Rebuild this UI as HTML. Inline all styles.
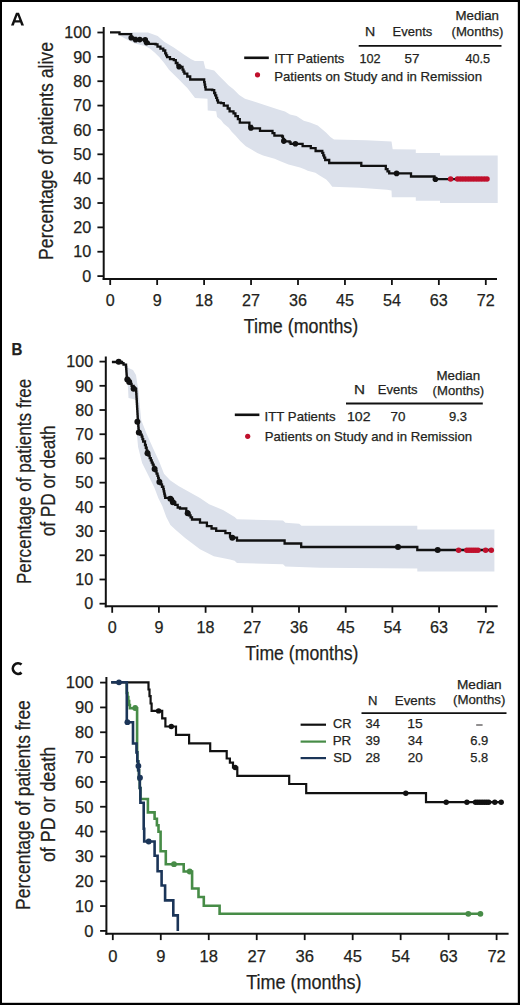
<!DOCTYPE html>
<html><head><meta charset="utf-8"><style>
html,body{margin:0;padding:0;background:#fff;overflow:hidden;width:520px;height:1005px;}
svg{display:block;}
text{font-family:"Liberation Sans", sans-serif;stroke:#231f20;stroke-width:0.25px;}
</style></head><body>
<svg width="520" height="1005" viewBox="0 0 520 1005">
<rect x="0" y="0" width="520" height="1005" fill="#fff"/>
<polygon points="118.00,32.40 148.00,32.60 157.70,36.00 164.20,41.80 173.80,47.60 183.50,54.30 191.20,59.20 195.00,61.00 203.50,61.00 205.40,68.50 214.20,70.50 219.00,75.80 223.80,80.60 228.70,85.40 233.50,89.20 239.20,95.00 245.00,98.80 254.00,101.50 263.80,104.80 278.30,109.60 285.00,111.50 290.00,114.50 296.50,116.00 303.80,120.80 310.00,122.50 317.70,125.50 326.00,132.50 330.40,137.00 334.00,139.40 366.20,140.20 391.50,141.50 392.70,149.20 415.80,149.60 415.80,153.00 440.00,153.00 440.00,155.40 497.70,155.40 497.70,203.00 440.00,203.00 440.00,200.80 415.80,200.80 415.80,197.30 391.80,197.30 391.50,190.40 387.00,189.80 359.20,187.80 332.30,186.80 329.20,182.70 326.20,179.60 320.00,175.80 315.40,172.70 307.70,170.80 304.60,169.20 300.00,167.60 288.50,164.60 280.40,161.20 274.60,158.80 263.10,155.40 257.30,153.10 251.50,149.60 245.80,146.20 240.20,141.00 235.40,135.40 231.50,131.50 228.70,127.70 223.80,123.80 221.00,120.00 217.10,117.10 216.20,111.30 207.70,110.40 207.50,98.80 195.00,98.00 187.30,88.00 183.50,84.20 178.70,79.30 173.80,74.50 169.00,69.70 164.20,63.00 159.40,57.20 154.60,52.40 149.80,48.60 145.00,46.00 135.00,43.50 125.00,38.50 118.00,34.60" fill="#dce1eb" stroke="none"/>
<polyline points="110.00,32.40 119.50,32.40 119.50,34.20 128.80,34.20 131.20,34.20 131.20,37.80 135.60,37.80 135.60,39.80 139.80,39.80 139.80,39.60 145.20,39.60 145.20,39.80 146.50,39.80 146.50,42.60 148.80,42.60 148.80,43.80 155.60,43.80 155.60,44.30 157.50,44.30 157.50,46.70 160.40,46.70 160.40,48.60 163.30,48.60 163.30,50.50 165.20,50.50 165.20,53.40 166.15,53.40 166.15,55.30 167.10,55.30 167.10,57.20 170.00,57.20 170.00,59.20 173.80,59.20 173.80,60.10 175.80,60.10 175.80,63.00 177.45,63.00 177.45,64.90 179.10,64.90 179.10,66.80 182.50,66.80 182.50,69.70 183.45,69.70 183.45,71.65 184.40,71.65 184.40,73.60 187.30,73.60 187.30,76.50 190.20,76.50 190.20,79.50 203.70,79.50 204.17,79.50 204.17,82.05 204.65,82.05 204.65,84.60 205.12,84.60 205.12,87.15 205.60,87.15 205.60,89.70 212.30,89.70 212.30,90.20 214.20,90.20 214.20,93.00 215.20,93.00 215.20,95.45 216.20,95.45 216.20,97.90 217.10,97.90 217.10,100.30 218.00,100.30 218.00,102.70 221.00,102.70 221.00,103.20 223.80,103.20 223.80,105.60 227.70,105.60 227.70,108.50 229.60,108.50 229.60,111.30 233.50,111.30 233.50,113.30 235.40,113.30 235.40,116.20 237.90,116.20 237.90,119.20 239.80,119.20 239.80,122.60 248.50,122.60 249.40,122.60 249.40,126.00 251.50,126.00 251.50,128.40 259.50,128.40 260.00,128.40 260.00,130.80 271.50,130.80 272.50,130.80 272.50,133.20 274.40,133.20 274.40,135.60 282.10,135.60 282.10,136.50 282.95,136.50 282.95,138.90 283.80,138.90 283.80,141.30 289.60,141.30 289.60,142.30 290.60,142.30 290.60,143.80 302.10,143.80 302.60,143.80 302.60,146.20 309.80,146.20 310.80,146.20 310.80,148.10 314.60,148.10 315.60,148.10 315.60,151.00 321.30,151.00 322.30,151.00 322.30,152.90 323.25,152.90 323.25,155.30 324.20,155.30 324.20,157.70 325.20,157.70 325.20,160.00 329.20,160.00 329.20,160.50 329.20,163.00 361.30,163.00 361.30,165.90 384.60,165.90 385.80,165.90 385.80,169.20 387.50,169.20 387.50,171.30 389.20,171.30 389.20,173.40 411.00,173.40 411.00,176.50 434.50,176.50 434.50,179.20 488.00,179.20" fill="none" stroke="#111" stroke-width="2.3" stroke-linejoin="miter" stroke-linecap="butt"/>
<circle cx="131.20" cy="37.80" r="2.8" fill="#111"/>
<circle cx="135.60" cy="39.80" r="2.8" fill="#111"/>
<circle cx="139.80" cy="39.60" r="2.8" fill="#111"/>
<circle cx="145.20" cy="39.80" r="2.8" fill="#111"/>
<circle cx="146.50" cy="42.60" r="2.8" fill="#111"/>
<circle cx="179.10" cy="66.80" r="2.8" fill="#111"/>
<circle cx="250.90" cy="127.90" r="2.8" fill="#111"/>
<circle cx="283.80" cy="141.10" r="2.8" fill="#111"/>
<circle cx="295.40" cy="143.80" r="2.8" fill="#111"/>
<circle cx="396.60" cy="173.40" r="2.8" fill="#111"/>
<circle cx="435.40" cy="179.20" r="2.8" fill="#111"/>
<circle cx="450.60" cy="179.10" r="2.75" fill="#c0102c"/>
<circle cx="457.50" cy="179.10" r="2.75" fill="#c0102c"/>
<circle cx="460.18" cy="179.10" r="2.75" fill="#c0102c"/>
<circle cx="462.86" cy="179.10" r="2.75" fill="#c0102c"/>
<circle cx="465.55" cy="179.10" r="2.75" fill="#c0102c"/>
<circle cx="468.23" cy="179.10" r="2.75" fill="#c0102c"/>
<circle cx="470.91" cy="179.10" r="2.75" fill="#c0102c"/>
<circle cx="473.59" cy="179.10" r="2.75" fill="#c0102c"/>
<circle cx="476.27" cy="179.10" r="2.75" fill="#c0102c"/>
<circle cx="478.95" cy="179.10" r="2.75" fill="#c0102c"/>
<circle cx="481.64" cy="179.10" r="2.75" fill="#c0102c"/>
<circle cx="484.32" cy="179.10" r="2.75" fill="#c0102c"/>
<circle cx="487.00" cy="179.10" r="2.75" fill="#c0102c"/>
<line x1="103.70" y1="27.00" x2="103.70" y2="280.00" stroke="#111" stroke-width="2.0"/>
<line x1="102.70" y1="279.00" x2="497.00" y2="279.00" stroke="#111" stroke-width="2.0"/>
<line x1="97.40" y1="276.10" x2="103.70" y2="276.10" stroke="#111" stroke-width="1.80"/>
<text x="91.20" y="281.80" font-size="16.5" text-anchor="end" fill="#231f20" textLength="8.99" lengthAdjust="spacingAndGlyphs">0</text>
<line x1="97.40" y1="251.74" x2="103.70" y2="251.74" stroke="#111" stroke-width="1.80"/>
<text x="91.20" y="257.44" font-size="16.5" text-anchor="end" fill="#231f20" textLength="17.99" lengthAdjust="spacingAndGlyphs">10</text>
<line x1="97.40" y1="227.38" x2="103.70" y2="227.38" stroke="#111" stroke-width="1.80"/>
<text x="91.20" y="233.08" font-size="16.5" text-anchor="end" fill="#231f20" textLength="17.99" lengthAdjust="spacingAndGlyphs">20</text>
<line x1="97.40" y1="203.02" x2="103.70" y2="203.02" stroke="#111" stroke-width="1.80"/>
<text x="91.20" y="208.72" font-size="16.5" text-anchor="end" fill="#231f20" textLength="17.99" lengthAdjust="spacingAndGlyphs">30</text>
<line x1="97.40" y1="178.66" x2="103.70" y2="178.66" stroke="#111" stroke-width="1.80"/>
<text x="91.20" y="184.36" font-size="16.5" text-anchor="end" fill="#231f20" textLength="17.99" lengthAdjust="spacingAndGlyphs">40</text>
<line x1="97.40" y1="154.30" x2="103.70" y2="154.30" stroke="#111" stroke-width="1.80"/>
<text x="91.20" y="160.00" font-size="16.5" text-anchor="end" fill="#231f20" textLength="17.99" lengthAdjust="spacingAndGlyphs">50</text>
<line x1="97.40" y1="129.94" x2="103.70" y2="129.94" stroke="#111" stroke-width="1.80"/>
<text x="91.20" y="135.64" font-size="16.5" text-anchor="end" fill="#231f20" textLength="17.99" lengthAdjust="spacingAndGlyphs">60</text>
<line x1="97.40" y1="105.58" x2="103.70" y2="105.58" stroke="#111" stroke-width="1.80"/>
<text x="91.20" y="111.28" font-size="16.5" text-anchor="end" fill="#231f20" textLength="17.99" lengthAdjust="spacingAndGlyphs">70</text>
<line x1="97.40" y1="81.22" x2="103.70" y2="81.22" stroke="#111" stroke-width="1.80"/>
<text x="91.20" y="86.92" font-size="16.5" text-anchor="end" fill="#231f20" textLength="17.99" lengthAdjust="spacingAndGlyphs">80</text>
<line x1="97.40" y1="56.86" x2="103.70" y2="56.86" stroke="#111" stroke-width="1.80"/>
<text x="91.20" y="62.56" font-size="16.5" text-anchor="end" fill="#231f20" textLength="17.99" lengthAdjust="spacingAndGlyphs">90</text>
<line x1="97.40" y1="32.50" x2="103.70" y2="32.50" stroke="#111" stroke-width="1.80"/>
<text x="91.20" y="38.20" font-size="16.5" text-anchor="end" fill="#231f20" textLength="26.98" lengthAdjust="spacingAndGlyphs">100</text>
<line x1="110.20" y1="279.00" x2="110.20" y2="285.00" stroke="#111" stroke-width="1.80"/>
<text x="110.20" y="306.30" font-size="16.5" text-anchor="middle" fill="#231f20" textLength="8.99" lengthAdjust="spacingAndGlyphs">0</text>
<line x1="157.15" y1="279.00" x2="157.15" y2="285.00" stroke="#111" stroke-width="1.80"/>
<text x="157.15" y="306.30" font-size="16.5" text-anchor="middle" fill="#231f20" textLength="8.99" lengthAdjust="spacingAndGlyphs">9</text>
<line x1="204.10" y1="279.00" x2="204.10" y2="285.00" stroke="#111" stroke-width="1.80"/>
<text x="204.10" y="306.30" font-size="16.5" text-anchor="middle" fill="#231f20" textLength="17.99" lengthAdjust="spacingAndGlyphs">18</text>
<line x1="251.05" y1="279.00" x2="251.05" y2="285.00" stroke="#111" stroke-width="1.80"/>
<text x="251.05" y="306.30" font-size="16.5" text-anchor="middle" fill="#231f20" textLength="17.99" lengthAdjust="spacingAndGlyphs">27</text>
<line x1="298.00" y1="279.00" x2="298.00" y2="285.00" stroke="#111" stroke-width="1.80"/>
<text x="298.00" y="306.30" font-size="16.5" text-anchor="middle" fill="#231f20" textLength="17.99" lengthAdjust="spacingAndGlyphs">36</text>
<line x1="344.95" y1="279.00" x2="344.95" y2="285.00" stroke="#111" stroke-width="1.80"/>
<text x="344.95" y="306.30" font-size="16.5" text-anchor="middle" fill="#231f20" textLength="17.99" lengthAdjust="spacingAndGlyphs">45</text>
<line x1="391.90" y1="279.00" x2="391.90" y2="285.00" stroke="#111" stroke-width="1.80"/>
<text x="391.90" y="306.30" font-size="16.5" text-anchor="middle" fill="#231f20" textLength="17.99" lengthAdjust="spacingAndGlyphs">54</text>
<line x1="438.85" y1="279.00" x2="438.85" y2="285.00" stroke="#111" stroke-width="1.80"/>
<text x="438.85" y="306.30" font-size="16.5" text-anchor="middle" fill="#231f20" textLength="17.99" lengthAdjust="spacingAndGlyphs">63</text>
<line x1="485.80" y1="279.00" x2="485.80" y2="285.00" stroke="#111" stroke-width="1.80"/>
<text x="485.80" y="306.30" font-size="16.5" text-anchor="middle" fill="#231f20" textLength="17.99" lengthAdjust="spacingAndGlyphs">72</text>
<polygon points="123.00,362.00 126.00,363.20 128.50,368.00 133.00,370.00 136.00,375.00 137.50,385.00 138.80,392.00 139.80,405.00 141.20,420.00 146.50,433.50 152.50,446.90 159.30,461.70 164.00,473.80 170.40,480.60 178.50,486.00 187.90,491.30 200.00,498.00 209.20,504.20 223.00,510.00 234.60,516.90 237.00,519.20 283.00,520.40 285.40,522.70 299.20,523.80 301.50,525.80 417.30,525.80 417.30,529.50 494.40,529.50 494.40,571.50 417.30,571.50 417.30,568.50 320.00,567.70 285.40,566.50 283.00,564.20 237.00,563.10 234.60,560.80 230.00,559.60 213.80,556.20 200.00,549.20 185.40,538.30 175.80,530.00 170.40,525.00 166.30,516.90 162.30,506.10 158.30,498.00 154.20,487.30 147.50,473.80 142.10,463.10 138.10,446.90 136.80,433.50 136.80,420.00 136.50,400.00 133.00,399.00 128.50,398.00 128.00,388.00 127.00,378.00 125.50,369.00 123.00,365.00" fill="#dce1eb" stroke="none"/>
<polyline points="111.90,362.00 118.70,362.00 122.00,362.00 122.00,363.20 123.50,363.20 123.50,364.60 125.90,364.60 126.05,364.60 126.05,366.83 126.20,366.83 126.20,369.07 126.35,369.07 126.35,371.30 126.50,371.30 126.50,373.53 126.65,373.53 126.65,375.77 126.80,375.77 126.80,378.00 127.30,378.00 127.30,379.50 129.20,379.50 129.20,382.00 130.40,382.00 130.40,383.90 131.60,383.90 131.60,385.80 133.60,385.80 133.60,388.70 136.00,388.70 136.00,389.10 136.15,389.10 136.15,391.58 136.29,391.58 136.29,394.05 136.44,394.05 136.44,396.53 136.58,396.53 136.58,399.01 136.73,399.01 136.73,401.48 136.88,401.48 136.88,403.96 137.02,403.96 137.02,406.44 137.17,406.44 137.17,408.92 137.32,408.92 137.32,411.39 137.46,411.39 137.46,413.87 137.61,413.87 137.61,416.35 137.75,416.35 137.75,418.82 137.90,418.82 137.90,421.30 138.08,421.30 138.08,423.52 138.26,423.52 138.26,425.74 138.44,425.74 138.44,427.96 138.62,427.96 138.62,430.18 138.80,430.18 138.80,432.40 140.25,432.40 140.25,434.55 141.70,434.55 141.70,436.70 142.45,436.70 142.45,439.10 143.20,439.10 143.20,441.50 145.00,441.50 145.00,445.00 145.83,445.00 145.83,447.77 146.67,447.77 146.67,450.53 147.50,450.53 147.50,453.30 148.60,453.30 148.60,455.67 149.70,455.67 149.70,458.03 150.80,458.03 150.80,460.40 151.75,460.40 151.75,462.55 152.70,462.55 152.70,464.70 153.65,464.70 153.65,466.85 154.60,466.85 154.60,469.00 155.57,469.00 155.57,471.27 156.53,471.27 156.53,473.53 157.50,473.53 157.50,475.80 158.13,475.80 158.13,477.83 158.77,477.83 158.77,479.87 159.40,479.87 159.40,481.90 160.70,481.90 160.70,484.33 162.00,484.33 162.00,486.77 163.30,486.77 163.30,489.20 163.78,489.20 163.78,491.38 164.25,491.38 164.25,493.55 164.72,493.55 164.72,495.72 165.20,495.72 165.20,497.90 170.40,497.90 170.40,498.80 172.90,498.80 172.90,502.30 175.30,502.30 175.30,504.90 177.70,504.90 177.70,507.50 180.00,507.50 180.00,508.50 186.30,508.50 186.30,511.50 187.70,511.50 187.70,513.30 189.13,513.30 189.13,515.37 190.57,515.37 190.57,517.43 192.00,517.43 192.00,519.50 200.00,519.50 200.00,522.70 206.90,522.70 206.90,526.20 211.55,526.20 211.55,528.50 216.20,528.50 216.20,530.80 225.40,530.80 225.40,533.10 230.00,533.10 230.00,536.50 232.30,536.50 232.30,537.70 237.00,537.70 237.00,540.50 284.60,540.50 284.60,543.50 301.20,543.50 301.20,547.00 417.30,547.00 417.30,550.00 492.00,550.00" fill="none" stroke="#111" stroke-width="2.3" stroke-linejoin="miter" stroke-linecap="butt"/>
<circle cx="118.70" cy="361.80" r="3.0" fill="#111"/>
<circle cx="127.30" cy="379.50" r="3.0" fill="#111"/>
<circle cx="129.20" cy="382.00" r="3.0" fill="#111"/>
<circle cx="133.60" cy="388.70" r="3.0" fill="#111"/>
<circle cx="137.40" cy="421.80" r="3.0" fill="#111"/>
<circle cx="138.80" cy="432.40" r="3.0" fill="#111"/>
<circle cx="147.50" cy="453.30" r="3.0" fill="#111"/>
<circle cx="154.60" cy="469.00" r="3.0" fill="#111"/>
<circle cx="159.40" cy="481.90" r="3.0" fill="#111"/>
<circle cx="170.40" cy="498.80" r="3.0" fill="#111"/>
<circle cx="172.90" cy="502.30" r="3.0" fill="#111"/>
<circle cx="187.70" cy="513.30" r="3.0" fill="#111"/>
<circle cx="232.30" cy="537.70" r="3.0" fill="#111"/>
<circle cx="398.00" cy="547.00" r="3.0" fill="#111"/>
<circle cx="437.70" cy="550.00" r="3.0" fill="#111"/>
<circle cx="458.60" cy="550.20" r="2.75" fill="#c0102c"/>
<circle cx="466.80" cy="550.20" r="2.75" fill="#c0102c"/>
<circle cx="469.04" cy="550.20" r="2.75" fill="#c0102c"/>
<circle cx="471.28" cy="550.20" r="2.75" fill="#c0102c"/>
<circle cx="473.52" cy="550.20" r="2.75" fill="#c0102c"/>
<circle cx="475.76" cy="550.20" r="2.75" fill="#c0102c"/>
<circle cx="478.00" cy="550.20" r="2.75" fill="#c0102c"/>
<circle cx="485.60" cy="550.20" r="2.75" fill="#c0102c"/>
<circle cx="491.30" cy="550.20" r="2.75" fill="#c0102c"/>
<line x1="105.80" y1="356.50" x2="105.80" y2="607.30" stroke="#111" stroke-width="2.0"/>
<line x1="104.80" y1="606.30" x2="497.70" y2="606.30" stroke="#111" stroke-width="2.0"/>
<line x1="99.50" y1="603.70" x2="105.80" y2="603.70" stroke="#111" stroke-width="1.80"/>
<text x="93.20" y="609.40" font-size="16.5" text-anchor="end" fill="#231f20" textLength="8.99" lengthAdjust="spacingAndGlyphs">0</text>
<line x1="99.50" y1="579.49" x2="105.80" y2="579.49" stroke="#111" stroke-width="1.80"/>
<text x="93.20" y="585.19" font-size="16.5" text-anchor="end" fill="#231f20" textLength="17.99" lengthAdjust="spacingAndGlyphs">10</text>
<line x1="99.50" y1="555.28" x2="105.80" y2="555.28" stroke="#111" stroke-width="1.80"/>
<text x="93.20" y="560.98" font-size="16.5" text-anchor="end" fill="#231f20" textLength="17.99" lengthAdjust="spacingAndGlyphs">20</text>
<line x1="99.50" y1="531.07" x2="105.80" y2="531.07" stroke="#111" stroke-width="1.80"/>
<text x="93.20" y="536.77" font-size="16.5" text-anchor="end" fill="#231f20" textLength="17.99" lengthAdjust="spacingAndGlyphs">30</text>
<line x1="99.50" y1="506.86" x2="105.80" y2="506.86" stroke="#111" stroke-width="1.80"/>
<text x="93.20" y="512.56" font-size="16.5" text-anchor="end" fill="#231f20" textLength="17.99" lengthAdjust="spacingAndGlyphs">40</text>
<line x1="99.50" y1="482.65" x2="105.80" y2="482.65" stroke="#111" stroke-width="1.80"/>
<text x="93.20" y="488.35" font-size="16.5" text-anchor="end" fill="#231f20" textLength="17.99" lengthAdjust="spacingAndGlyphs">50</text>
<line x1="99.50" y1="458.44" x2="105.80" y2="458.44" stroke="#111" stroke-width="1.80"/>
<text x="93.20" y="464.14" font-size="16.5" text-anchor="end" fill="#231f20" textLength="17.99" lengthAdjust="spacingAndGlyphs">60</text>
<line x1="99.50" y1="434.23" x2="105.80" y2="434.23" stroke="#111" stroke-width="1.80"/>
<text x="93.20" y="439.93" font-size="16.5" text-anchor="end" fill="#231f20" textLength="17.99" lengthAdjust="spacingAndGlyphs">70</text>
<line x1="99.50" y1="410.02" x2="105.80" y2="410.02" stroke="#111" stroke-width="1.80"/>
<text x="93.20" y="415.72" font-size="16.5" text-anchor="end" fill="#231f20" textLength="17.99" lengthAdjust="spacingAndGlyphs">80</text>
<line x1="99.50" y1="385.81" x2="105.80" y2="385.81" stroke="#111" stroke-width="1.80"/>
<text x="93.20" y="391.51" font-size="16.5" text-anchor="end" fill="#231f20" textLength="17.99" lengthAdjust="spacingAndGlyphs">90</text>
<line x1="99.50" y1="361.60" x2="105.80" y2="361.60" stroke="#111" stroke-width="1.80"/>
<text x="93.20" y="367.30" font-size="16.5" text-anchor="end" fill="#231f20" textLength="26.98" lengthAdjust="spacingAndGlyphs">100</text>
<line x1="112.20" y1="606.30" x2="112.20" y2="612.80" stroke="#111" stroke-width="1.80"/>
<text x="112.20" y="633.40" font-size="16.5" text-anchor="middle" fill="#231f20" textLength="8.99" lengthAdjust="spacingAndGlyphs">0</text>
<line x1="158.90" y1="606.30" x2="158.90" y2="612.80" stroke="#111" stroke-width="1.80"/>
<text x="158.90" y="633.40" font-size="16.5" text-anchor="middle" fill="#231f20" textLength="8.99" lengthAdjust="spacingAndGlyphs">9</text>
<line x1="205.60" y1="606.30" x2="205.60" y2="612.80" stroke="#111" stroke-width="1.80"/>
<text x="205.60" y="633.40" font-size="16.5" text-anchor="middle" fill="#231f20" textLength="17.99" lengthAdjust="spacingAndGlyphs">18</text>
<line x1="252.30" y1="606.30" x2="252.30" y2="612.80" stroke="#111" stroke-width="1.80"/>
<text x="252.30" y="633.40" font-size="16.5" text-anchor="middle" fill="#231f20" textLength="17.99" lengthAdjust="spacingAndGlyphs">27</text>
<line x1="299.00" y1="606.30" x2="299.00" y2="612.80" stroke="#111" stroke-width="1.80"/>
<text x="299.00" y="633.40" font-size="16.5" text-anchor="middle" fill="#231f20" textLength="17.99" lengthAdjust="spacingAndGlyphs">36</text>
<line x1="345.70" y1="606.30" x2="345.70" y2="612.80" stroke="#111" stroke-width="1.80"/>
<text x="345.70" y="633.40" font-size="16.5" text-anchor="middle" fill="#231f20" textLength="17.99" lengthAdjust="spacingAndGlyphs">45</text>
<line x1="392.40" y1="606.30" x2="392.40" y2="612.80" stroke="#111" stroke-width="1.80"/>
<text x="392.40" y="633.40" font-size="16.5" text-anchor="middle" fill="#231f20" textLength="17.99" lengthAdjust="spacingAndGlyphs">54</text>
<line x1="439.10" y1="606.30" x2="439.10" y2="612.80" stroke="#111" stroke-width="1.80"/>
<text x="439.10" y="633.40" font-size="16.5" text-anchor="middle" fill="#231f20" textLength="17.99" lengthAdjust="spacingAndGlyphs">63</text>
<line x1="485.80" y1="606.30" x2="485.80" y2="612.80" stroke="#111" stroke-width="1.80"/>
<text x="485.80" y="633.40" font-size="16.5" text-anchor="middle" fill="#231f20" textLength="17.99" lengthAdjust="spacingAndGlyphs">72</text>
<polyline points="111.20,682.30 148.50,682.30 148.50,689.50 149.50,689.50 149.50,696.10 150.60,696.10 150.60,703.50 151.60,703.50 151.60,710.90 162.20,710.90 162.20,718.30 165.40,718.30 165.40,726.50 176.00,726.50 176.00,734.80 189.10,734.80 189.10,743.30 210.20,743.30 210.20,751.10 226.70,751.10 226.70,758.50 229.90,758.50 229.90,762.70 233.00,762.70 233.00,767.50 237.30,767.50 237.30,775.80 289.20,775.80 289.20,784.00 306.20,784.00 306.20,793.20 426.00,793.20 426.00,802.20 502.00,802.20" fill="none" stroke="#111" stroke-width="2.2" stroke-linejoin="miter" stroke-linecap="butt"/>
<polyline points="126.80,682.30 126.80,693.00 127.50,693.00 127.50,697.00 128.30,697.00 128.30,701.00 129.10,701.00 129.10,705.00 129.90,705.00 129.90,708.30 137.10,708.30 137.10,752.40 137.30,752.40 137.30,761.30 138.20,761.30 138.20,770.20 139.00,770.20 139.00,779.10 139.80,779.10 139.80,788.00 140.40,788.00 140.40,799.00 147.90,799.00 147.90,812.40 154.60,812.40 154.60,818.80 156.90,818.80 156.90,825.20 158.50,825.20 158.50,831.80 160.60,831.80 160.60,851.20 165.80,851.20 165.80,864.20 183.70,864.20 183.70,871.50 192.10,871.50 192.10,888.50 198.50,888.50 198.50,897.00 203.80,897.00 203.80,905.80 219.60,905.80 219.60,913.80 481.00,913.80" fill="none" stroke="#478c47" stroke-width="2.6" stroke-linejoin="miter" stroke-linecap="butt"/>
<polyline points="111.20,682.30 126.80,682.30 126.80,722.20 133.00,722.20 133.00,743.50 136.50,743.50 136.50,752.40 137.30,752.40 137.30,761.30 138.20,761.30 138.20,770.20 139.00,770.20 139.00,779.10 139.80,779.10 139.80,788.00 140.40,788.00 140.40,802.70 143.70,802.70 143.70,828.80 144.20,828.80 144.20,841.50 154.60,841.50 154.60,855.70 157.60,855.70 157.60,871.30 161.60,871.30 161.60,885.50 165.10,885.50 165.10,900.40 173.30,900.40 173.30,915.40 177.80,915.40 177.80,931.00" fill="none" stroke="#1b3558" stroke-width="2.6" stroke-linejoin="miter" stroke-linecap="butt"/>
<circle cx="158.60" cy="710.90" r="2.7" fill="#111"/>
<circle cx="171.30" cy="726.50" r="2.7" fill="#111"/>
<circle cx="235.20" cy="767.50" r="2.7" fill="#111"/>
<circle cx="405.80" cy="793.20" r="2.7" fill="#111"/>
<circle cx="446.20" cy="802.20" r="2.7" fill="#111"/>
<circle cx="466.90" cy="802.20" r="2.7" fill="#111"/>
<circle cx="475.50" cy="802.20" r="2.7" fill="#111"/>
<circle cx="477.70" cy="802.20" r="2.7" fill="#111"/>
<circle cx="479.90" cy="802.20" r="2.7" fill="#111"/>
<circle cx="482.10" cy="802.20" r="2.7" fill="#111"/>
<circle cx="484.30" cy="802.20" r="2.7" fill="#111"/>
<circle cx="486.50" cy="802.20" r="2.7" fill="#111"/>
<circle cx="488.70" cy="802.20" r="2.7" fill="#111"/>
<circle cx="494.80" cy="802.20" r="2.7" fill="#111"/>
<circle cx="501.20" cy="802.20" r="2.7" fill="#111"/>
<circle cx="135.20" cy="708.00" r="2.9" fill="#478c47"/>
<circle cx="174.00" cy="864.20" r="2.9" fill="#478c47"/>
<circle cx="189.70" cy="871.50" r="2.9" fill="#478c47"/>
<circle cx="468.30" cy="913.80" r="2.9" fill="#478c47"/>
<circle cx="480.40" cy="913.80" r="2.9" fill="#478c47"/>
<circle cx="119.00" cy="682.30" r="2.9" fill="#1b3558"/>
<circle cx="127.40" cy="722.20" r="2.9" fill="#1b3558"/>
<circle cx="138.40" cy="766.00" r="2.9" fill="#1b3558"/>
<circle cx="140.00" cy="777.70" r="2.9" fill="#1b3558"/>
<circle cx="148.70" cy="841.50" r="2.9" fill="#1b3558"/>
<line x1="106.40" y1="677.00" x2="106.40" y2="934.80" stroke="#111" stroke-width="2.0"/>
<line x1="105.40" y1="933.80" x2="508.60" y2="933.80" stroke="#111" stroke-width="2.0"/>
<line x1="100.10" y1="930.90" x2="106.40" y2="930.90" stroke="#111" stroke-width="1.80"/>
<text x="93.40" y="936.70" font-size="16.9" text-anchor="end" fill="#231f20" textLength="9.21" lengthAdjust="spacingAndGlyphs">0</text>
<line x1="100.10" y1="906.07" x2="106.40" y2="906.07" stroke="#111" stroke-width="1.80"/>
<text x="93.40" y="911.87" font-size="16.9" text-anchor="end" fill="#231f20" textLength="18.42" lengthAdjust="spacingAndGlyphs">10</text>
<line x1="100.10" y1="881.24" x2="106.40" y2="881.24" stroke="#111" stroke-width="1.80"/>
<text x="93.40" y="887.04" font-size="16.9" text-anchor="end" fill="#231f20" textLength="18.42" lengthAdjust="spacingAndGlyphs">20</text>
<line x1="100.10" y1="856.41" x2="106.40" y2="856.41" stroke="#111" stroke-width="1.80"/>
<text x="93.40" y="862.21" font-size="16.9" text-anchor="end" fill="#231f20" textLength="18.42" lengthAdjust="spacingAndGlyphs">30</text>
<line x1="100.10" y1="831.58" x2="106.40" y2="831.58" stroke="#111" stroke-width="1.80"/>
<text x="93.40" y="837.38" font-size="16.9" text-anchor="end" fill="#231f20" textLength="18.42" lengthAdjust="spacingAndGlyphs">40</text>
<line x1="100.10" y1="806.75" x2="106.40" y2="806.75" stroke="#111" stroke-width="1.80"/>
<text x="93.40" y="812.55" font-size="16.9" text-anchor="end" fill="#231f20" textLength="18.42" lengthAdjust="spacingAndGlyphs">50</text>
<line x1="100.10" y1="781.92" x2="106.40" y2="781.92" stroke="#111" stroke-width="1.80"/>
<text x="93.40" y="787.72" font-size="16.9" text-anchor="end" fill="#231f20" textLength="18.42" lengthAdjust="spacingAndGlyphs">60</text>
<line x1="100.10" y1="757.09" x2="106.40" y2="757.09" stroke="#111" stroke-width="1.80"/>
<text x="93.40" y="762.89" font-size="16.9" text-anchor="end" fill="#231f20" textLength="18.42" lengthAdjust="spacingAndGlyphs">70</text>
<line x1="100.10" y1="732.26" x2="106.40" y2="732.26" stroke="#111" stroke-width="1.80"/>
<text x="93.40" y="738.06" font-size="16.9" text-anchor="end" fill="#231f20" textLength="18.42" lengthAdjust="spacingAndGlyphs">80</text>
<line x1="100.10" y1="707.43" x2="106.40" y2="707.43" stroke="#111" stroke-width="1.80"/>
<text x="93.40" y="713.23" font-size="16.9" text-anchor="end" fill="#231f20" textLength="18.42" lengthAdjust="spacingAndGlyphs">90</text>
<line x1="100.10" y1="682.60" x2="106.40" y2="682.60" stroke="#111" stroke-width="1.80"/>
<text x="93.40" y="688.40" font-size="16.9" text-anchor="end" fill="#231f20" textLength="27.63" lengthAdjust="spacingAndGlyphs">100</text>
<line x1="112.80" y1="933.80" x2="112.80" y2="940.10" stroke="#111" stroke-width="1.80"/>
<text x="112.80" y="961.70" font-size="16.9" text-anchor="middle" fill="#231f20" textLength="9.21" lengthAdjust="spacingAndGlyphs">0</text>
<line x1="160.78" y1="933.80" x2="160.78" y2="940.10" stroke="#111" stroke-width="1.80"/>
<text x="160.78" y="961.70" font-size="16.9" text-anchor="middle" fill="#231f20" textLength="9.21" lengthAdjust="spacingAndGlyphs">9</text>
<line x1="208.75" y1="933.80" x2="208.75" y2="940.10" stroke="#111" stroke-width="1.80"/>
<text x="208.75" y="961.70" font-size="16.9" text-anchor="middle" fill="#231f20" textLength="18.42" lengthAdjust="spacingAndGlyphs">18</text>
<line x1="256.73" y1="933.80" x2="256.73" y2="940.10" stroke="#111" stroke-width="1.80"/>
<text x="256.73" y="961.70" font-size="16.9" text-anchor="middle" fill="#231f20" textLength="18.42" lengthAdjust="spacingAndGlyphs">27</text>
<line x1="304.70" y1="933.80" x2="304.70" y2="940.10" stroke="#111" stroke-width="1.80"/>
<text x="304.70" y="961.70" font-size="16.9" text-anchor="middle" fill="#231f20" textLength="18.42" lengthAdjust="spacingAndGlyphs">36</text>
<line x1="352.68" y1="933.80" x2="352.68" y2="940.10" stroke="#111" stroke-width="1.80"/>
<text x="352.68" y="961.70" font-size="16.9" text-anchor="middle" fill="#231f20" textLength="18.42" lengthAdjust="spacingAndGlyphs">45</text>
<line x1="400.65" y1="933.80" x2="400.65" y2="940.10" stroke="#111" stroke-width="1.80"/>
<text x="400.65" y="961.70" font-size="16.9" text-anchor="middle" fill="#231f20" textLength="18.42" lengthAdjust="spacingAndGlyphs">54</text>
<line x1="448.62" y1="933.80" x2="448.62" y2="940.10" stroke="#111" stroke-width="1.80"/>
<text x="448.62" y="961.70" font-size="16.9" text-anchor="middle" fill="#231f20" textLength="18.42" lengthAdjust="spacingAndGlyphs">63</text>
<line x1="496.60" y1="933.80" x2="496.60" y2="940.10" stroke="#111" stroke-width="1.80"/>
<text x="496.60" y="961.70" font-size="16.9" text-anchor="middle" fill="#231f20" textLength="18.42" lengthAdjust="spacingAndGlyphs">72</text>
<path d="M11,25.5 L16,12.8 L19,12.8 L24,25.5 L21.2,25.5 L20.2,22.5 L14.8,22.5 L13.8,25.5 Z M15.6,20.2 L19.4,20.2 L17.5,15.2 Z" fill="#111" fill-rule="evenodd"/>
<text x="11.40" y="354.80" font-size="17.3" text-anchor="start" fill="#231f20" font-weight="bold" textLength="10.89" lengthAdjust="spacingAndGlyphs" stroke="#111" stroke-width="0.9">B</text>
<path d="M21.56,664.49 A5.3,5.3 0 1 0 21.56,672.61" fill="none" stroke="#111" stroke-width="2.7"/>
<text x="243.71" y="332.50" font-size="20.3" text-anchor="start" fill="#231f20" textLength="114.52" lengthAdjust="spacingAndGlyphs">Time (months)</text>
<text x="245.36" y="660.00" font-size="20.3" text-anchor="start" fill="#231f20" textLength="113.05" lengthAdjust="spacingAndGlyphs">Time (months)</text>
<text x="246.15" y="989.20" font-size="20.8278" text-anchor="start" fill="#231f20" textLength="115.38" lengthAdjust="spacingAndGlyphs">Time (months)</text>
<text x="52.80" y="259.90" font-size="20.3" text-anchor="start" fill="#231f20" textLength="217.91" lengthAdjust="spacingAndGlyphs" transform="rotate(-90 52.80 259.90)">Percentage of patients alive</text>
<text x="31.30" y="584.05" font-size="20.3" text-anchor="start" fill="#231f20" textLength="205.45" lengthAdjust="spacingAndGlyphs" transform="rotate(-90 31.30 584.05)">Percentage of patients free</text>
<text x="55.10" y="536.27" font-size="20.3" text-anchor="start" fill="#231f20" textLength="110.93" lengthAdjust="spacingAndGlyphs" transform="rotate(-90 55.10 536.27)">of PD or death</text>
<text x="30.20" y="909.88" font-size="20.8278" text-anchor="start" fill="#231f20" textLength="209.70" lengthAdjust="spacingAndGlyphs" transform="rotate(-90 30.20 909.88)">Percentage of patients free</text>
<text x="54.60" y="862.10" font-size="20.8278" text-anchor="start" fill="#231f20" textLength="115.20" lengthAdjust="spacingAndGlyphs" transform="rotate(-90 54.60 862.10)">of PD or death</text>
<text x="455.46" y="20.40" font-size="13" text-anchor="start" fill="#231f20" textLength="43.54" lengthAdjust="spacingAndGlyphs">Median</text>
<text x="451.53" y="35.80" font-size="13" text-anchor="start" fill="#231f20" textLength="51.92" lengthAdjust="spacingAndGlyphs">(Months)</text>
<text x="365.09" y="36.20" font-size="13" text-anchor="start" fill="#231f20" textLength="10.22" lengthAdjust="spacingAndGlyphs">N</text>
<text x="392.58" y="36.20" font-size="13" text-anchor="start" fill="#231f20" textLength="39.72" lengthAdjust="spacingAndGlyphs">Events</text>
<line x1="358.7" y1="45.8" x2="501.5" y2="45.8" stroke="#111" stroke-width="1.8"/>
<polyline points="244.20,57.80 268.80,57.80" fill="none" stroke="#111" stroke-width="2.6" stroke-linejoin="miter" stroke-linecap="butt"/>
<text x="274.15" y="62.80" font-size="13" text-anchor="start" fill="#231f20" textLength="70.18" lengthAdjust="spacingAndGlyphs">ITT Patients</text>
<text x="359.38" y="62.70" font-size="13" text-anchor="start" fill="#231f20" textLength="21.21" lengthAdjust="spacingAndGlyphs">102</text>
<text x="404.61" y="62.70" font-size="13" text-anchor="start" fill="#231f20" textLength="14.91" lengthAdjust="spacingAndGlyphs">57</text>
<text x="465.47" y="62.70" font-size="13" text-anchor="start" fill="#231f20" textLength="24.72" lengthAdjust="spacingAndGlyphs">40.5</text>
<circle cx="257.50" cy="74.80" r="2.6" fill="#c0102c"/>
<text x="274.27" y="81.30" font-size="13" text-anchor="start" fill="#231f20" textLength="207.73" lengthAdjust="spacingAndGlyphs">Patients on Study and in Remission</text>
<text x="436.46" y="379.60" font-size="13" text-anchor="start" fill="#231f20" textLength="43.74" lengthAdjust="spacingAndGlyphs">Median</text>
<text x="432.64" y="395.00" font-size="13" text-anchor="start" fill="#231f20" textLength="51.61" lengthAdjust="spacingAndGlyphs">(Months)</text>
<text x="353.90" y="394.20" font-size="13" text-anchor="start" fill="#231f20" textLength="11.00" lengthAdjust="spacingAndGlyphs">N</text>
<text x="377.78" y="394.20" font-size="13" text-anchor="start" fill="#231f20" textLength="39.83" lengthAdjust="spacingAndGlyphs">Events</text>
<line x1="346" y1="403.5" x2="482.8" y2="403.5" stroke="#111" stroke-width="1.8"/>
<polyline points="234.80,414.80 259.40,414.80" fill="none" stroke="#111" stroke-width="2.6" stroke-linejoin="miter" stroke-linecap="butt"/>
<text x="264.64" y="421.00" font-size="13" text-anchor="start" fill="#231f20" textLength="70.90" lengthAdjust="spacingAndGlyphs">ITT Patients</text>
<text x="346.98" y="421.00" font-size="13" text-anchor="start" fill="#231f20" textLength="23.59" lengthAdjust="spacingAndGlyphs">102</text>
<text x="390.45" y="421.00" font-size="13" text-anchor="start" fill="#231f20" textLength="14.91" lengthAdjust="spacingAndGlyphs">70</text>
<text x="448.95" y="421.00" font-size="13" text-anchor="start" fill="#231f20" textLength="18.07" lengthAdjust="spacingAndGlyphs">9.3</text>
<circle cx="247.70" cy="436.30" r="2.6" fill="#c0102c"/>
<text x="264.77" y="440.60" font-size="13" text-anchor="start" fill="#231f20" textLength="207.23" lengthAdjust="spacingAndGlyphs">Patients on Study and in Remission</text>
<text x="456.93" y="688.80" font-size="13.3" text-anchor="start" fill="#231f20" textLength="44.79" lengthAdjust="spacingAndGlyphs">Median</text>
<text x="453.03" y="704.20" font-size="13.3" text-anchor="start" fill="#231f20" textLength="52.34" lengthAdjust="spacingAndGlyphs">(Months)</text>
<text x="367.98" y="704.60" font-size="13.3" text-anchor="start" fill="#231f20" textLength="9.45" lengthAdjust="spacingAndGlyphs">N</text>
<text x="394.75" y="704.50" font-size="13.3" text-anchor="start" fill="#231f20" textLength="40.87" lengthAdjust="spacingAndGlyphs">Events</text>
<line x1="361.5" y1="713.1" x2="506.5" y2="713.1" stroke="#111" stroke-width="1.8"/>
<polyline points="300.60,724.70 326.00,724.70" fill="none" stroke="#111" stroke-width="2.2" stroke-linejoin="miter" stroke-linecap="butt"/>
<polyline points="300.60,741.60 326.00,741.60" fill="none" stroke="#478c47" stroke-width="2.2" stroke-linejoin="miter" stroke-linecap="butt"/>
<polyline points="300.60,758.10 326.00,758.10" fill="none" stroke="#1b3558" stroke-width="2.2" stroke-linejoin="miter" stroke-linecap="butt"/>
<text x="333.11" y="727.90" font-size="13.3" text-anchor="start" fill="#231f20" textLength="18.43" lengthAdjust="spacingAndGlyphs">CR</text>
<text x="332.65" y="744.80" font-size="13.3" text-anchor="start" fill="#231f20" textLength="18.60" lengthAdjust="spacingAndGlyphs">PR</text>
<text x="333.14" y="761.70" font-size="13.3" text-anchor="start" fill="#231f20" textLength="18.44" lengthAdjust="spacingAndGlyphs">SD</text>
<text x="365.56" y="727.90" font-size="13.3" text-anchor="start" fill="#231f20" textLength="14.36" lengthAdjust="spacingAndGlyphs">34</text>
<text x="407.29" y="727.90" font-size="13.3" text-anchor="start" fill="#231f20" textLength="15.44" lengthAdjust="spacingAndGlyphs">15</text>
<text x="365.55" y="744.80" font-size="13.3" text-anchor="start" fill="#231f20" textLength="14.64" lengthAdjust="spacingAndGlyphs">39</text>
<text x="407.85" y="744.80" font-size="13.3" text-anchor="start" fill="#231f20" textLength="14.67" lengthAdjust="spacingAndGlyphs">34</text>
<text x="470.20" y="744.80" font-size="13.3" text-anchor="start" fill="#231f20" textLength="18.08" lengthAdjust="spacingAndGlyphs">6.9</text>
<text x="365.39" y="761.70" font-size="13.3" text-anchor="start" fill="#231f20" textLength="14.75" lengthAdjust="spacingAndGlyphs">28</text>
<text x="407.68" y="761.70" font-size="13.3" text-anchor="start" fill="#231f20" textLength="14.99" lengthAdjust="spacingAndGlyphs">20</text>
<text x="470.34" y="761.70" font-size="13.3" text-anchor="start" fill="#231f20" textLength="17.88" lengthAdjust="spacingAndGlyphs">5.8</text>
<line x1="476.2" y1="725" x2="482.6" y2="725" stroke="#231f20" stroke-width="1.0"/>
<rect x="0" y="0" width="520" height="2" fill="#000"/><rect x="0" y="0" width="2" height="1005" fill="#000"/><rect x="517.8" y="0" width="2.2" height="1005" fill="#000"/><rect x="0" y="1002.8" width="520" height="2.2" fill="#000"/>
</svg>
</body></html>
